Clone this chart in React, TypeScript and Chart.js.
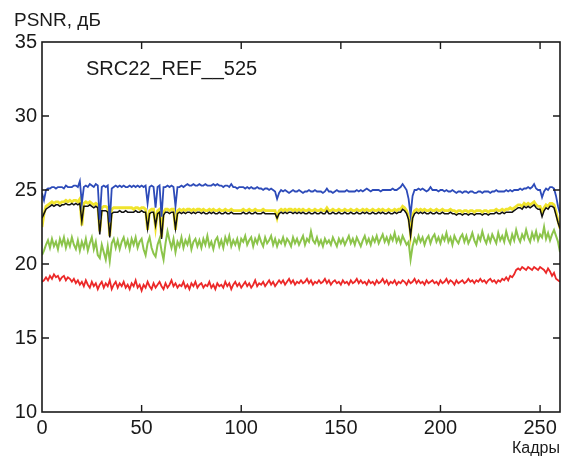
import React, { useEffect, useRef } from "react";
import { Chart, registerables } from "chart.js";

Chart.register(...registerables);

const yTickValues = [10, 15, 20, 25, 30, 35];
const xTickValues = [0, 50, 100, 150, 200, 250];
const yLabel = "PSNR, дБ";
const xLabel = "Кадры";
const chartNote = "SRC22_REF__525";

const blueSeries = [
  24.8, 24.3, 25.0, 25.1, 25.1, 25.2, 25.2, 25.1, 25.2, 25.2,
  25.2, 25.1, 25.3, 25.2, 25.2, 25.2, 25.3, 25.3, 25.2, 25.6,
  24.1, 25.2, 25.3, 25.2, 25.4, 25.3, 25.2, 25.4, 25.3, 23.0,
  25.2, 25.3, 25.2, 25.3, 22.8, 25.1, 25.2, 25.3, 25.2, 25.3,
  25.2, 25.3, 25.2, 25.2, 25.3, 25.2, 25.3, 25.2, 25.3, 25.2,
  25.3, 25.2, 25.3, 24.1, 25.2, 25.3, 25.2, 23.8, 25.2, 25.3,
  23.2, 25.2, 25.2, 25.3, 25.2, 25.3, 25.2, 23.9, 25.2, 25.2,
  25.3, 25.2, 25.3, 25.4, 25.3, 25.3, 25.4, 25.3, 25.3, 25.4,
  25.3, 25.3, 25.4, 25.3, 25.3, 25.3, 25.4, 25.3, 25.4, 25.3,
  25.3, 25.2, 25.3, 25.3, 25.2, 25.4, 25.2, 25.2, 25.1, 25.2,
  25.2, 25.2, 25.1, 25.2, 25.1, 25.2, 25.1, 25.1, 25.2, 25.1,
  25.1, 25.0, 25.1, 25.1, 25.0, 25.1, 25.0, 24.9, 24.4, 24.8,
  25.0, 24.9, 25.0, 24.9, 24.8, 24.9, 25.0, 24.9, 24.9, 25.0,
  24.9, 24.8, 24.9, 24.9, 25.0, 24.9, 24.9, 25.0, 24.9, 24.9,
  24.9, 24.8, 24.9, 25.1, 24.9, 24.9, 24.8, 24.9, 25.0, 24.9,
  24.9, 24.9, 24.9, 25.0, 24.9, 24.9, 24.9, 24.9, 25.0, 24.9,
  25.0, 24.9, 25.0, 25.1, 25.0, 24.9, 25.0, 25.0, 25.0, 25.0,
  24.9, 25.0, 25.0, 25.0, 25.0, 25.0, 25.1, 25.0, 25.0, 25.1,
  25.2, 25.4, 25.2, 25.0, 24.4, 23.3, 24.6, 25.0, 25.0, 25.1,
  25.0, 25.1, 25.0, 24.9, 25.0, 25.2, 25.0, 25.0, 25.0, 24.9,
  25.0, 25.0, 24.9, 25.0, 24.9, 24.9, 25.0, 24.9, 24.8, 24.9,
  24.9, 24.8, 24.9, 24.9, 24.8, 24.9, 24.9, 24.8, 24.8, 24.9,
  24.9, 24.8, 24.9, 24.9, 24.9, 24.8, 24.9, 24.9, 25.0, 24.9,
  24.9, 24.9, 24.9, 25.0, 24.9, 25.0, 24.9, 25.0, 25.0, 25.0,
  25.1, 25.0, 25.1, 25.1, 25.2, 25.1, 25.2, 25.4, 25.1, 25.0,
  25.0, 24.5, 24.9, 25.1, 25.0, 25.2, 25.2, 25.1, 24.6, 23.9, 23.4,
];

const yellowSeries = [
  22.5, 23.4, 23.9, 24.0, 24.1, 24.2, 24.1, 24.2, 24.2, 24.1,
  24.2, 24.2, 24.3, 24.2, 24.3, 24.2, 24.3, 24.3, 24.2, 24.4,
  22.6, 24.1, 24.2, 24.1, 24.2, 24.1, 24.0, 24.1, 24.0, 22.2,
  23.8, 23.9, 23.9, 23.8, 21.9, 23.7, 23.8, 23.8, 23.8, 23.8,
  23.8, 23.8, 23.8, 23.8, 23.8, 23.8, 23.7, 23.8, 23.8, 23.7,
  23.8, 23.8, 23.7, 22.3, 23.6, 23.7, 23.7, 22.5, 23.6, 23.7,
  21.8, 23.5, 23.7, 23.7, 23.6, 23.7, 23.7, 22.3, 23.6, 23.7,
  23.6, 23.7, 23.6, 23.7, 23.7, 23.6, 23.7, 23.6, 23.7, 23.7,
  23.6, 23.7, 23.6, 23.6, 23.7, 23.6, 23.7, 23.6, 23.6, 23.7,
  23.6, 23.6, 23.7, 23.6, 23.6, 23.7, 23.6, 23.6, 23.6, 23.6,
  23.6, 23.7, 23.6, 23.6, 23.7, 23.6, 23.6, 23.7, 23.6, 23.6,
  23.6, 23.7, 23.6, 23.6, 23.6, 23.6, 23.6, 23.6, 23.1, 23.6,
  23.7, 23.6, 23.7, 23.6, 23.7, 23.7, 23.6, 23.7, 23.6, 23.7,
  23.6, 23.7, 23.6, 23.6, 23.7, 23.6, 23.6, 23.7, 23.6, 23.6,
  23.7, 23.6, 23.6, 23.8, 23.6, 23.6, 23.7, 23.6, 23.6, 23.7,
  23.6, 23.6, 23.7, 23.6, 23.6, 23.7, 23.6, 23.6, 23.7, 23.6,
  23.6, 23.7, 23.6, 23.7, 23.6, 23.6, 23.7, 23.6, 23.6, 23.7,
  23.6, 23.7, 23.6, 23.6, 23.7, 23.6, 23.6, 23.7, 23.6, 23.7,
  23.7, 23.9, 23.8, 23.6, 23.2, 22.0, 23.3, 23.6, 23.7, 23.6,
  23.7, 23.6, 23.7, 23.6, 23.6, 23.7, 23.6, 23.6, 23.7, 23.6,
  23.6, 23.7, 23.6, 23.6, 23.6, 23.7, 23.6, 23.6, 23.5, 23.6,
  23.6, 23.5, 23.6, 23.6, 23.5, 23.6, 23.6, 23.5, 23.6, 23.6,
  23.6, 23.5, 23.6, 23.6, 23.5, 23.6, 23.6, 23.6, 23.7, 23.6,
  23.6, 23.7, 23.6, 23.7, 23.7, 23.8, 23.7, 23.8, 23.9, 24.0,
  24.0, 23.9, 24.1, 24.0, 24.1, 24.0, 24.1, 24.2, 24.0, 23.9,
  23.9, 23.5, 23.8, 24.0, 23.9, 24.1, 24.1, 24.0, 23.5, 22.9, 22.4,
];

const blackSeries = [
  23.1, 23.4, 23.7, 23.8, 23.9, 24.0, 23.9, 24.0, 24.0, 23.9,
  24.0, 24.0, 24.1, 24.0, 24.0, 24.1, 24.0, 24.1, 24.0, 24.1,
  22.9, 23.9, 23.9, 23.9, 24.0, 23.9, 23.8, 23.9, 23.8, 22.0,
  23.6, 23.6, 23.6, 23.5, 21.8, 23.4, 23.5, 23.5, 23.5, 23.6,
  23.5, 23.5, 23.6, 23.5, 23.5, 23.5, 23.5, 23.6, 23.5, 23.5,
  23.6, 23.5, 23.5, 22.4, 23.4, 23.5, 23.5, 22.6, 23.4, 23.5,
  21.7, 23.3, 23.5, 23.5, 23.4, 23.5, 23.5, 22.4, 23.4, 23.5,
  23.4, 23.5, 23.4, 23.5, 23.5, 23.4, 23.5, 23.4, 23.5, 23.5,
  23.4, 23.5, 23.4, 23.4, 23.5, 23.4, 23.5, 23.4, 23.4, 23.5,
  23.4, 23.4, 23.5, 23.4, 23.4, 23.5, 23.4, 23.4, 23.4, 23.4,
  23.4, 23.5, 23.4, 23.4, 23.5, 23.4, 23.4, 23.5, 23.4, 23.4,
  23.4, 23.5, 23.4, 23.4, 23.4, 23.4, 23.4, 23.4, 23.1, 23.4,
  23.5, 23.4, 23.5, 23.4, 23.5, 23.5, 23.4, 23.5, 23.4, 23.5,
  23.4, 23.5, 23.4, 23.4, 23.5, 23.4, 23.4, 23.5, 23.4, 23.4,
  23.5, 23.4, 23.4, 23.6, 23.4, 23.4, 23.5, 23.4, 23.4, 23.5,
  23.4, 23.4, 23.5, 23.4, 23.4, 23.5, 23.4, 23.4, 23.5, 23.4,
  23.4, 23.5, 23.4, 23.5, 23.4, 23.4, 23.5, 23.4, 23.4, 23.5,
  23.4, 23.5, 23.4, 23.4, 23.5, 23.4, 23.4, 23.5, 23.4, 23.5,
  23.5, 23.7, 23.6, 23.4, 23.0, 21.9, 23.1, 23.4, 23.5, 23.4,
  23.5, 23.4, 23.5, 23.4, 23.4, 23.5, 23.4, 23.4, 23.5, 23.4,
  23.4, 23.5, 23.4, 23.4, 23.4, 23.5, 23.4, 23.4, 23.3, 23.4,
  23.4, 23.3, 23.4, 23.4, 23.3, 23.4, 23.4, 23.3, 23.4, 23.4,
  23.4, 23.3, 23.4, 23.4, 23.3, 23.4, 23.4, 23.4, 23.5, 23.4,
  23.4, 23.5, 23.4, 23.5, 23.5, 23.5, 23.5, 23.6, 23.7, 23.8,
  23.8, 23.7, 23.9, 23.8, 23.9, 23.8, 23.9, 24.0, 23.8, 23.7,
  23.7, 23.2, 23.6, 23.8, 23.7, 23.9, 23.9, 23.8, 23.3, 22.8, 22.4,
];

const greenSeries = [
  20.6, 20.9, 21.3, 21.6, 21.1, 21.7, 21.2, 21.5, 21.0, 21.7,
  21.3, 21.8, 21.1, 21.6, 21.2, 21.8, 21.3, 21.0, 21.6, 20.9,
  21.5, 21.1, 21.7, 20.9, 21.4, 21.8, 21.0, 21.5, 20.6, 20.4,
  21.3, 20.8, 20.3, 21.2, 20.2, 21.4, 21.7, 21.1, 21.6, 21.0,
  21.5, 21.8, 21.2, 21.6, 21.0, 21.7, 21.3, 21.8, 21.1, 21.5,
  21.7, 21.0, 20.6, 21.4, 21.8, 21.1, 20.7, 20.5, 21.3, 21.7,
  20.9, 20.3, 21.4, 22.2, 21.6, 21.1, 21.7, 20.8, 21.5, 21.2,
  21.8, 21.1, 21.6, 21.3, 21.8, 21.0, 21.5, 21.7, 21.2, 21.6,
  21.1, 21.7, 21.3, 21.9, 21.2, 21.5, 21.0, 21.6, 21.8, 21.2,
  21.6, 21.1, 21.8, 21.4, 21.9, 21.2, 21.6, 21.3, 21.7, 21.1,
  21.7, 21.5, 21.9, 21.3, 21.6, 21.8, 21.2, 21.7, 21.4, 21.9,
  21.5, 21.2, 21.8, 21.4, 21.6, 21.9, 21.3, 21.7, 21.2, 21.6,
  21.4, 21.8, 21.3, 21.7, 21.5, 21.2, 21.8, 21.4, 21.7, 21.3,
  21.6, 21.9, 21.3, 21.7, 21.5, 22.2, 21.6, 21.4, 21.8, 21.3,
  21.6, 21.2, 21.7, 21.4, 21.6, 21.3, 21.8, 21.5, 21.2, 21.7,
  21.4, 21.7, 21.3, 21.6, 21.9, 21.4, 21.7, 21.3, 21.8, 21.5,
  21.2, 21.6, 21.9, 21.4, 21.7, 21.3, 21.8, 21.5, 21.9, 21.4,
  21.7, 22.0, 21.5, 21.8, 21.4, 21.9, 21.6, 22.1, 21.5, 21.8,
  21.4, 21.9, 21.6, 21.3, 21.5, 20.3, 21.2, 21.7, 21.4, 21.9,
  21.5, 21.8, 21.3, 21.7, 21.9, 21.4, 21.8, 22.0, 21.5, 21.8,
  21.4, 21.9, 21.6, 22.1, 21.5, 21.8, 21.3, 21.9, 21.6, 21.4,
  21.8, 22.0, 21.5, 21.9, 21.4, 21.7, 22.1, 21.6, 21.3, 21.9,
  21.6, 22.2, 21.7, 21.4, 21.9, 21.5, 22.0, 21.7, 21.4, 22.1,
  21.6, 21.9, 21.5, 22.2, 21.7, 21.4, 22.0, 21.6, 22.3, 21.8,
  21.5, 22.0, 21.7, 22.3, 21.8, 21.5, 22.1, 21.7, 22.2, 21.6,
  22.0, 21.8, 22.5, 21.7, 22.1, 21.6, 22.0, 22.3, 21.9, 21.5, 20.8,
];

const redSeries = [
  18.8, 18.9, 19.1, 18.9, 19.2, 19.0, 19.3, 19.1, 19.2, 18.9,
  19.1, 19.2, 18.9, 19.1, 19.0, 18.8, 19.0, 18.7, 18.9, 18.6,
  18.8, 18.5, 18.9, 18.6, 18.4, 18.8, 18.5, 18.7, 18.3, 18.6,
  18.8, 18.4, 18.7, 18.5, 18.9, 18.3, 18.6, 18.8, 18.4, 18.7,
  18.5, 18.8, 18.4, 18.6, 18.3, 18.7, 18.5, 18.9, 18.4, 18.6,
  18.2, 18.6, 18.4, 18.8, 18.5, 18.3, 18.7, 18.4, 18.6, 18.8,
  18.5, 18.3, 18.7, 18.4, 18.6, 18.9, 18.5, 18.7, 18.4, 18.6,
  18.5, 18.8, 18.4, 18.6, 18.3, 18.7, 18.5, 18.8, 18.4, 18.6,
  18.7, 18.4, 18.6, 18.5, 18.8, 18.4, 18.6, 18.3, 18.7, 18.5,
  18.6, 18.4, 18.8, 18.5, 18.7, 18.3, 18.6, 18.8, 18.5, 18.7,
  18.4, 18.6, 18.8, 18.5, 18.7, 18.4, 18.6, 18.9, 18.5, 18.7,
  18.6, 18.8, 18.5, 18.7, 18.9, 18.6, 18.8, 18.5, 18.7, 18.9,
  18.7, 18.9, 18.6, 18.8, 19.0, 18.7, 18.9, 18.6, 18.8, 18.7,
  18.9, 18.7, 18.8, 19.0, 18.7, 18.9, 18.6, 18.8, 18.7, 18.9,
  18.7, 18.8, 19.0, 18.7, 18.9, 18.6, 18.8, 18.9, 18.7, 18.8,
  18.6, 18.9, 18.7, 18.8, 18.6, 18.9, 18.7, 18.8, 19.0, 18.7,
  18.9, 18.7, 18.8, 18.6, 18.9, 18.7, 18.8, 18.6, 18.9, 18.7,
  18.8, 19.0, 18.7, 18.9, 18.6, 18.8, 18.7, 18.9, 18.6, 18.8,
  18.7, 18.9, 18.8, 18.6, 18.9, 18.7, 18.8, 19.0, 18.7, 18.9,
  18.7, 18.8, 18.6, 18.9, 18.7, 18.8, 18.9, 18.7, 18.8, 18.6,
  18.9, 18.7, 18.8, 19.0, 18.7, 18.9, 18.8, 18.6, 18.9, 18.7,
  18.8, 18.9, 18.7, 18.8, 19.0, 18.8, 18.9, 18.7, 18.9, 18.8,
  19.0, 18.8, 18.9, 18.7, 18.9, 19.0, 18.8, 18.9, 18.7, 18.9,
  18.8, 19.0, 18.9, 19.1, 18.9, 19.2, 19.1, 19.3, 19.6, 19.7,
  19.6, 19.8, 19.7, 19.6, 19.8, 19.7, 19.6, 19.8, 19.7, 19.6,
  19.8, 19.7, 19.6, 19.4, 19.7, 19.5, 19.2, 19.4, 19.0, 18.9, 18.8,
];

const FONT = "'Liberation Sans', Arial, sans-serif";

function toPoints(values: number[]) {
  return values.map((v, i) => ({ x: i, y: v }));
}

const framePlugin = {
  id: "frameAndTicks",
  afterDraw(chart: any) {
    const { ctx, chartArea, scales } = chart;
    const { left, right, top, bottom } = chartArea;
    ctx.save();
    ctx.strokeStyle = "#1a1a1a";
    ctx.lineWidth = 1.6;
    ctx.strokeRect(left, top, right - left, bottom - top);
    ctx.lineWidth = 1.4;
    const tl = 7;
    ctx.beginPath();
    for (const v of xTickValues) {
      if (v === 0) continue;
      const x = scales.x.getPixelForValue(v);
      ctx.moveTo(x, top);
      ctx.lineTo(x, top + tl);
      ctx.moveTo(x, bottom);
      ctx.lineTo(x, bottom - tl);
    }
    for (const v of yTickValues) {
      if (v === 10 || v === 35) continue;
      const y = scales.y.getPixelForValue(v);
      ctx.moveTo(left, y);
      ctx.lineTo(left + tl, y);
      ctx.moveTo(right, y);
      ctx.lineTo(right - tl, y);
    }
    ctx.stroke();
    ctx.fillStyle = "#1a1a1a";
    ctx.textAlign = "left";
    ctx.textBaseline = "alphabetic";
    ctx.font = `19px ${FONT}`;
    ctx.fillText(yLabel, 14, 26);
    ctx.font = `20px ${FONT}`;
    ctx.fillText(chartNote, left + 44, top + 33);
    ctx.restore();
  },
};

export default function App() {
  const ref = useRef<HTMLCanvasElement | null>(null);
  useEffect(() => {
    if (!ref.current) return;
    const chart = new Chart(ref.current, {
      type: "line",
      data: {
        datasets: [
          { label: "blue", data: toPoints(blueSeries), borderColor: "rgb(45,75,185)", borderWidth: 1.8 },
          { label: "black", data: toPoints(blackSeries), borderColor: "#111111", borderWidth: 1.5 },
          { label: "yellow", data: toPoints(yellowSeries), borderColor: "rgb(240,228,45)", borderWidth: 2.8 },
          { label: "green", data: toPoints(greenSeries), borderColor: "rgb(140,196,75)", borderWidth: 2.0 },
          { label: "red", data: toPoints(redSeries), borderColor: "rgb(236,40,40)", borderWidth: 1.8 },
        ],
      },
      options: {
        animation: false,
        responsive: false,
        maintainAspectRatio: false,
        layout: { padding: { top: 42, right: 6, left: 0, bottom: 0 } },
        elements: { point: { radius: 0 }, line: { tension: 0 } },
        plugins: { legend: { display: false }, tooltip: { enabled: false } },
        scales: {
          x: {
            type: "linear",
            min: 0,
            max: 260,
            grid: { display: false, drawTicks: false },
            border: { display: false },
            afterFit: (s: any) => { s.height = 46; },
            afterBuildTicks: (s: any) => { s.ticks = xTickValues.map((v) => ({ value: v })); },
            ticks: {
              padding: 4,
              color: "#1a1a1a",
              font: { family: FONT, size: 20 },
              maxRotation: 0,
              autoSkip: false,
            },
            title: {
              display: true,
              text: xLabel,
              align: "end",
              color: "#1a1a1a",
              font: { family: FONT, size: 16 },
              padding: { top: 0, bottom: 0 },
            },
          },
          y: {
            type: "linear",
            min: 10,
            max: 35,
            grid: { display: false, drawTicks: false },
            border: { display: false },
            afterFit: (s: any) => { s.width = 42; },
            afterBuildTicks: (s: any) => { s.ticks = yTickValues.map((v) => ({ value: v })); },
            ticks: {
              padding: 5,
              color: "#1a1a1a",
              font: { family: FONT, size: 20 },
              autoSkip: false,
            },
          },
        },
      },
      plugins: [framePlugin],
    } as any);
    return () => chart.destroy();
  }, []);
  return (
    <canvas
      ref={ref}
      width={566}
      height={458}
      style={{ position: "absolute", left: 0, top: 0, display: "block" }}
    />
  );
}
